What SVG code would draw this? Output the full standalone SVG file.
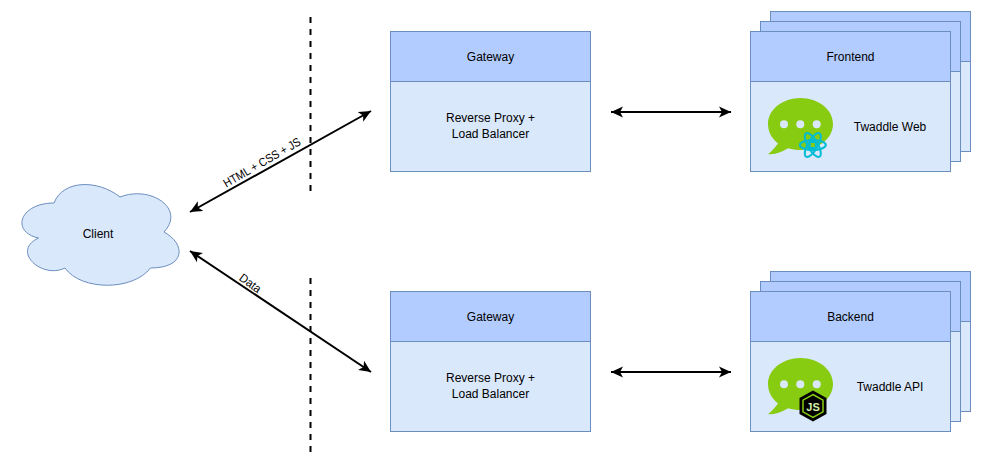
<svg xmlns="http://www.w3.org/2000/svg" width="981" height="463" viewBox="0 0 981 463">
<style>
text{font-family:"Liberation Sans",Arial,sans-serif;font-size:12px;fill:#000;text-anchor:middle}
.h{fill:#b3ccff;stroke:#6c8ebf}
.b{fill:#dae8fc;stroke:#6c8ebf}
.l{fill:none;stroke:#000;stroke-width:2}
.d{fill:none;stroke:#000;stroke-width:2;stroke-dasharray:6 6}
.r{fill:none;stroke:#00bcd4;stroke-width:2}
</style>
<defs>
<marker id="a" viewBox="0 0 12 12" refX="12" refY="6" markerWidth="12" markerHeight="12" markerUnits="userSpaceOnUse" orient="auto-start-reverse"><path d="M0 0.5L12 6L0 11.5L3 6Z" fill="#000"/></marker>
<g id="bubble"><path d="M768 154.300C773 150 776 146 778 143.500C771 138 768 131 768 124C768 109.600 782.500 98 800.500 98C818.500 98 833 109.600 833 124C833 138.400 818.500 150 800.500 150C796 150 792 149.400 788 148.200C782 152 775 154.500 768 154.300Z" fill="#88cc11"/><circle cx="784" cy="124.300" r="4" fill="#dae8fc"/><circle cx="800.300" cy="124.300" r="4" fill="#dae8fc"/><circle cx="816.700" cy="124.300" r="4" fill="#dae8fc"/></g>
</defs>
<g id="connectors">
<path class="d" d="M310.500 17V191"/>
<path class="d" d="M310.500 278V452"/>
<path class="l" d="M190 212L371 111" marker-start="url(#a)" marker-end="url(#a)"/>
<path class="l" d="M190 251L371 372" marker-start="url(#a)" marker-end="url(#a)"/>
<path class="l" d="M611 112H731" marker-start="url(#a)" marker-end="url(#a)"/>
<path class="l" d="M611 372H731" marker-start="url(#a)" marker-end="url(#a)"/>
<text transform="translate(264 166) rotate(-30)" textLength="87" lengthAdjust="spacingAndGlyphs">HTML + CSS + JS</text>
<text transform="translate(248 286.500) rotate(36)" textLength="24" lengthAdjust="spacingAndGlyphs">Data</text>
</g>
<g id="client">
<path class="b" d="M54 203C19.500 203 10.500 232 38.500 238C10.500 251 42 279.500 65 268C81 291 133 291 150.500 268C186 268 186 244 164 232C186 208.500 150.500 185 120 197C98 179.500 63 179.500 54 203Z"/>
<text x="98" y="238">Client</text>
</g>
<g id="gateway-top">
<rect class="b" x="390.500" y="31.500" width="200" height="140"/>
<rect class="h" x="390.500" y="31.500" width="200" height="50"/>
<text x="490.500" y="61">Gateway</text>
<text x="490.500" y="122">Reverse Proxy +</text>
<text x="490.500" y="138">Load Balancer</text>
</g>
<g id="gateway-bottom">
<rect class="b" x="390.500" y="291.500" width="200" height="140"/>
<rect class="h" x="390.500" y="291.500" width="200" height="50"/>
<text x="490.500" y="321">Gateway</text>
<text x="490.500" y="382">Reverse Proxy +</text>
<text x="490.500" y="398">Load Balancer</text>
</g>
<g id="frontend">
<rect class="b" x="770.500" y="11.500" width="200" height="140"/>
<rect class="h" x="770.500" y="11.500" width="200" height="50"/>
<rect class="b" x="760.500" y="21.500" width="200" height="140"/>
<rect class="h" x="760.500" y="21.500" width="200" height="50"/>
<rect class="b" x="750.500" y="31.500" width="200" height="140"/>
<rect class="h" x="750.500" y="31.500" width="200" height="50"/>
<text x="850.500" y="61">Frontend</text>
<use href="#bubble"/>
<g transform="translate(812.800 145)">
<ellipse class="r" rx="13" ry="5"/>
<ellipse class="r" rx="13.500" ry="5" transform="rotate(60)"/>
<ellipse class="r" rx="13.500" ry="5" transform="rotate(120)"/>
<rect x="-3" y="-3" width="6" height="6" fill="none" stroke="#00bcd4" stroke-width="2"/>
</g>
<text x="890" y="131">Twaddle Web</text>
</g>
<g id="backend">
<rect class="b" x="770.500" y="271.500" width="200" height="140"/>
<rect class="h" x="770.500" y="271.500" width="200" height="50"/>
<rect class="b" x="760.500" y="281.500" width="200" height="140"/>
<rect class="h" x="760.500" y="281.500" width="200" height="50"/>
<rect class="b" x="750.500" y="291.500" width="200" height="140"/>
<rect class="h" x="750.500" y="291.500" width="200" height="50"/>
<text x="850.500" y="321">Backend</text>
<use href="#bubble" y="260"/>
<path d="M813 390.500L826.500 398V414L813 421.500L799.500 414V398Z" fill="#000"/>
<path d="M813 394.500L823 400.200V411.800L813 417.500L803 411.800V400.200Z" fill="none" stroke="#88cc11" stroke-width="1.500"/>
<text x="813" y="410.500" style="font-size:11px;font-weight:bold;fill:#d8f0a8">JS</text>
<text x="890" y="391">Twaddle API</text>
</g>
</svg>
